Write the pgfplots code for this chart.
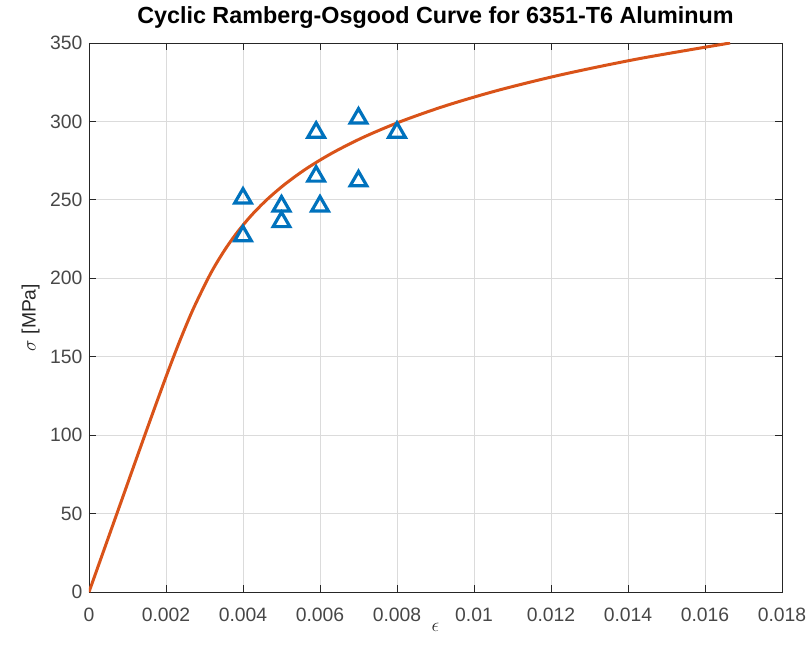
\documentclass[border=0pt]{standalone}
\usepackage{pgfplots}
\pgfplotsset{compat=1.18}
\usepackage{fontspec}
\setmainfont{Liberation Sans}
\definecolor{mblue}{rgb}{0,0.447,0.741}
\definecolor{morange}{rgb}{0.85,0.325,0.098}
\definecolor{axgray}{rgb}{0.15,0.15,0.15}
\begin{document}
\begin{tikzpicture}[x=0.75pt,y=0.75pt]
\useasboundingbox (-89,-65) rectangle (722,592);
\begin{axis}[at={(0,0)}, anchor=south west, scale only axis,
  width=519.75pt, height=411.75pt,
  xmin=0, xmax=0.018, ymin=0, ymax=350,
  xtick={0,0.002,0.004,0.006,0.008,0.01,0.012,0.014,0.016,0.018},
  xticklabels={0,0.002,0.004,0.006,0.008,0.01,0.012,0.014,0.016,0.018},
  ytick={0,50,100,150,200,250,300,350},
  yticklabels={0,50,100,150,200,250,300,350},
  scaled x ticks=false,
  grid=major, major grid style={black!14, line width=0.6pt},
  tick align=inside, major tick length=5pt,
  axis line style={axgray, line width=0.6pt},
  tick style={axgray, line width=0.6pt},
  ticklabel style={font=\fontsize{14.5}{17}\selectfont, text=axgray!85},
  xticklabel style={yshift=-8.5pt},
  yticklabel style={xshift=-1.5pt},
  title={\bfseries Cyclic Ramberg-Osgood Curve for 6351-T6 Aluminum},
  title style={font=\fontsize{17.5}{20}\selectfont, at={(axis description cs:0.5,1)}, anchor=base, yshift=8.5pt},
  xlabel={$\epsilon$},
  xlabel style={font=\fontsize{14.5}{17}\selectfont, text=axgray, at={(axis description cs:0.5,0)}, anchor=base, yshift=-30pt},
  ylabel={$\sigma$ [MPa]},
  ylabel style={font=\fontsize{14.5}{17}\selectfont, text=axgray, at={(axis description cs:-0.077,0.5)}, anchor=base, rotate=0},
]
\addplot[only marks, mark=triangle, mark size=7.2pt, draw=mblue, mark options={line width=2.4pt, draw=mblue, fill=none}] coordinates {
(0.004,251) (0.004,227) (0.005,246) (0.005,236) (0.0059,293)
(0.0059,265) (0.006,246) (0.007,302) (0.007,262) (0.008,293)
};
\addplot[morange, line width=2.25pt, smooth, no marks] coordinates {
(0,0) (0.000290,20) (0.000580,40) (0.000870,60) (0.001159,80)
(0.001450,100) (0.001744,120) (0.002043,140) (0.002357,160)
(0.002699,180) (0.003094,200) (0.003321,210) (0.003578,220)
(0.003873,230) (0.004214,240) (0.004615,250) (0.005090,260)
(0.005653,270) (0.006328,280) (0.007135,290) (0.008103,300)
(0.009263,310) (0.010650,320) (0.012310,330) (0.014288,340)
(0.016652,350)
};
\end{axis}
\end{tikzpicture}
\end{document}
